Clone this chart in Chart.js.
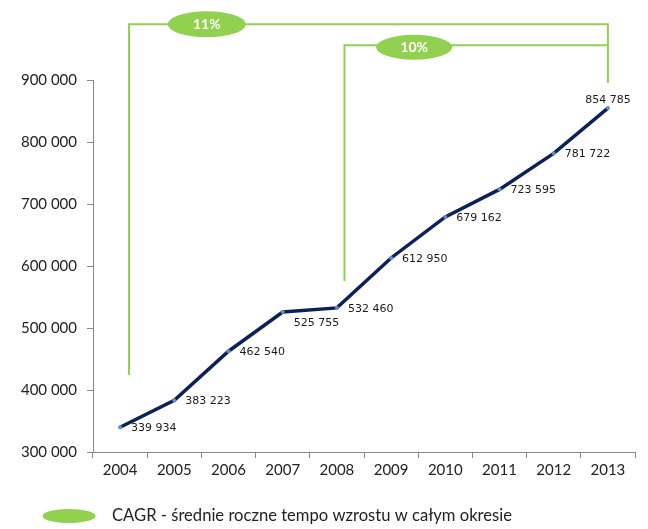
<!DOCTYPE html>
<html>
<head>
<meta charset="utf-8">
<script src="https://cdn.jsdelivr.net/npm/chart.js@4/dist/chart.umd.min.js"></script>
<style>
  body { margin: 0; background: #fff; }
  #wrap { width: 648px; height: 529px; }
</style>
</head>
<body>
<div id="wrap"><canvas id="chart" width="648" height="529"></canvas></div>
<script>
const years = ["2004", "2005", "2006", "2007", "2008", "2009", "2010", "2011", "2012", "2013"];
const values = [339934, 383223, 462540, 525755, 532460, 612950, 679162, 723595, 781722, 854785];
const cagrLabels = ["11%", "10%"];
const legendText = "CAGR - średnie roczne tempo wzrostu w całym okresie";

const GREEN = "#92d050";
const fmt = v => String(v).replace(/\B(?=(\d{3})+(?!\d))/g, " ");

// value labels + CAGR brackets + bottom legend
const extras = {
  id: "extras",
  afterDatasetsDraw(chart) {
    const ctx = chart.ctx;
    const x = chart.scales.x, y = chart.scales.y;
    const pts = chart.getDatasetMeta(0).data;

    ctx.save();
    ctx.font = "11px 'DejaVu Sans'";
    ctx.fillStyle = "#1a1a1a";
    pts.forEach((p, i) => {
      if (i === pts.length - 1) {
        ctx.textAlign = "center";
        ctx.textBaseline = "bottom";
        ctx.fillText(fmt(values[i]), p.x, p.y - 2);
      } else {
        ctx.textAlign = "left";
        ctx.textBaseline = "middle";
        const dy = i === 3 ? 11 : 1;
        ctx.fillText(fmt(values[i]), p.x + 11, p.y + dy);
      }
    });

    // brackets
    const half = (x.getPixelForValue(1) - x.getPixelForValue(0)) / 2;
    const right = x.getPixelForValue(9);
    const b1x = x.getPixelForValue(0) + half * 0.33;
    const b2x = x.getPixelForValue(4) + half * 0.28;
    const top1 = y.getPixelForValue(990000);
    const top2 = y.getPixelForValue(956000);
    ctx.strokeStyle = GREEN;
    ctx.lineWidth = 2;
    ctx.beginPath();
    ctx.moveTo(b1x, y.getPixelForValue(424000));
    ctx.lineTo(b1x, top1);
    ctx.lineTo(right, top1);
    ctx.lineTo(right, y.getPixelForValue(895000));
    ctx.moveTo(b2x, y.getPixelForValue(576000));
    ctx.lineTo(b2x, top2);
    ctx.lineTo(right, top2);
    ctx.stroke();

    const bubble = (cx, cy, w, h, txt) => {
      ctx.fillStyle = GREEN;
      ctx.beginPath();
      ctx.ellipse(cx, cy, w / 2, h / 2, 0, 0, Math.PI * 2);
      ctx.fill();
      ctx.fillStyle = "#fff";
      ctx.font = "bold 14px Lato";
      ctx.textAlign = "center";
      ctx.textBaseline = "middle";
      if (txt) ctx.fillText(txt, cx, cy);
    };
    bubble(x.getPixelForValue(1) + half * 1.2, top1, 78, 26, cagrLabels[0]);
    bubble(x.getPixelForValue(5) + half * 0.85, top2 + 2, 76, 25, cagrLabels[1]);

    // legend
    bubble(69, chart.height - 13, 53, 14, "");
    ctx.fillStyle = "#222";
    ctx.font = "16.6px Lato";
    ctx.textAlign = "left";
    ctx.textBaseline = "middle";
    ctx.fillText(legendText, 112, chart.height - 13);
    ctx.restore();
  }
};

new Chart(document.getElementById("chart"), {
  type: "line",
  data: {
    labels: years,
    datasets: [
      {
        data: values,
        borderColor: "#0c2157",
        borderWidth: 3.5,
        pointRadius: 2,
        pointBackgroundColor: "#5b8fd0",
        pointBorderWidth: 0,
        tension: 0
      }
    ]
  },
  options: {
    responsive: false,
    animation: false,
    layout: { padding: { top: 80, right: 13, bottom: 47, left: 0 } },
    plugins: { legend: { display: false }, tooltip: { enabled: false } },
    scales: {
      x: {
        offset: true,
        afterFit: s => { s.height = 30; },
        grid: { offset: true, drawOnChartArea: false, tickLength: 6, color: "#888" },
        border: { color: "#888" },
        ticks: { color: "#222", font: { family: "Lato", size: 15 }, padding: 3, maxRotation: 0 }
      },
      y: {
        min: 300000,
        max: 900000,
        afterFit: s => { s.width = 93; },
        grid: { drawOnChartArea: false, tickLength: 6, color: "#888" },
        border: { color: "#888" },
        ticks: {
          stepSize: 100000,
          color: "#222",
          font: { family: "Lato", size: 15 },
          padding: 10,
          callback: v => fmt(v)
        }
      }
    }
  },
  plugins: [extras]
});
</script>
</body>
</html>
